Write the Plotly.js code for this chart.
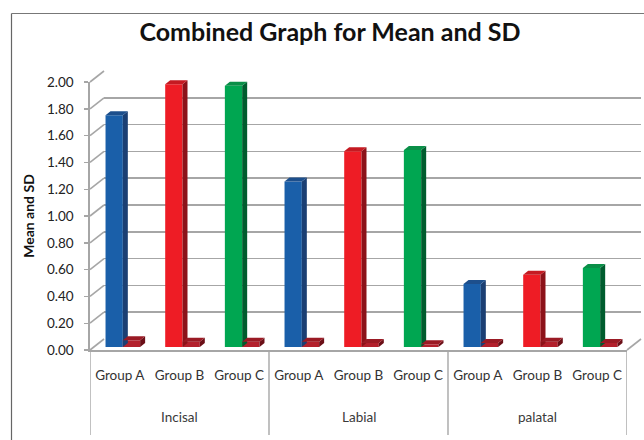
<!DOCTYPE html>
<html><head><meta charset="utf-8">
<script src="https://cdn.plot.ly/plotly-3.0.1.min.js"></script>
<style>html,body{margin:0;padding:0;background:#fff}#c{width:644px;height:440px}</style></head>
<body><div id="c"></div>
<script>
const groups = ["Group A","Group B","Group C","Group A","Group B","Group C","Group A","Group B","Group C"];
const regions = ["Incisal","Labial","palatal"];
const meanValues = [1.73,1.96,1.95,1.235,1.46,1.47,0.47,0.54,0.59];
const sdValues = [0.05,0.04,0.04,0.04,0.03,0.02,0.03,0.04,0.03];
const yTicks = [0,0.2,0.4,0.6,0.8,1,1.2,1.4,1.6,1.8,2];
const frontColors = ["#1a5fa9","#ee1c25","#00a651"];
const sideColors = ["#1b3f73","#8c1219","#005c2e"];
const topColors = ["#1d4f8c","#c51a22","#0a8f48"];
const sdFront="#b3202c", sdSide="#6b0f17", sdTop="#9a1a24";

const W=644,H=440;
const fx0=90,fx1=627,fy0=350,fy1=82;
const bdx=14,bdy=11;
const sx=3,sy=3;
const dom=(a,b,s)=>[a/s,b/s];
const pos=groups.map((_,i)=>i+0.5);
const barW=0.29;
const dx=5/((fx1-fx0)/9), dy=4/((fy0-fy1)/2);
const FONT='Lato, "Open Sans", sans-serif';

function face(xs,ys,color){
  return {x:[...xs,xs[0]],y:[...ys,ys[0]],xaxis:'x3',yaxis:'y3',type:'scatter',mode:'lines',
    fill:'toself',fillcolor:color,line:{width:0,color:color},hoverinfo:'skip',showlegend:false};
}
const traces=[];
traces.push({x:[0,9],y:[0,2],xaxis:'x2',yaxis:'y2',type:'scatter',mode:'none',showlegend:false,hoverinfo:'skip'});
traces.push({x:[0,9],y:[0,2],xaxis:'x',yaxis:'y',type:'scatter',mode:'none',showlegend:false,hoverinfo:'skip'});
traces.push({x:pos.map(p=>p-barW/2),y:meanValues,width:barW,type:'bar',xaxis:'x3',yaxis:'y3',
  marker:{color:pos.map((_,i)=>frontColors[i%3])},showlegend:false,name:'Mean'});
traces.push({x:pos.map(p=>p+barW/2),y:sdValues,width:barW,type:'bar',xaxis:'x3',yaxis:'y3',
  marker:{color:sdFront},showlegend:false,name:'SD'});
pos.forEach((p,i)=>{
  const v=meanValues[i], l=p-barW, r=p;
  traces.push(face([r,r+dx,r+dx,r],[0,dy,v+dy,v],sideColors[i%3]));
  traces.push(face([l,r,r+dx,l+dx],[v,v,v+dy,v+dy],topColors[i%3]));
  const s=sdValues[i], l2=p, r2=p+barW;
  traces.push(face([r2,r2+dx,r2+dx,r2],[0,dy,s+dy,s],sdSide));
  traces.push(face([l2,r2,r2+dx,l2+dx],[s,s,s+dy,s+dy],sdTop));
});

const grey="#a6a6a6";
const shapes=[];
const line=(x0,y0,x1,y1,c,w)=>({type:'line',xref:'paper',yref:'paper',x0:x0/W,x1:x1/W,y0:1-y0/H,y1:1-y1/H,line:{color:c||grey,width:w||1.6},layer:'below'});
yTicks.forEach(t=>{
  const y=fy0-(fy0-fy1)*t/2;
  shapes.push(line(fx0,y,fx0+bdx,y-bdy));
});
shapes.push(line(fx1,fy0,fx1+bdx,fy0-bdy));
[0,3,6,9].forEach(k=>{
  shapes.push({type:'line',xref:'x',yref:'paper',x0:k,x1:k,y0:1-fy0/H,y1:1-435/H,line:{color:grey,width:1.4},layer:'below'});
});
shapes.push(line(11.5,13.5,11.5,440,"#666666",1.2));
shapes.push(line(11.5,13.5,644,13.5,"#777777",1.2));

const annotations=regions.map((t,i)=>({text:t,xref:'x',yref:'paper',x:i*3+1.5,y:1-417/H,yanchor:'middle',showarrow:false,
  font:{family:FONT,size:13.5,color:'#3a3a3a'}}));

const layout={
  width:W,height:H,margin:{l:0,r:0,t:0,b:0,pad:0},paper_bgcolor:'#fff',plot_bgcolor:'rgba(0,0,0,0)',
  showlegend:false,barmode:'overlay',
  title:{text:'<b>Combined Graph for Mean and SD</b>',x:330/W,xanchor:'center',y:1-32/H,yanchor:'middle',
    font:{family:FONT,size:25,color:'#111'}},
  xaxis:{domain:dom(fx0,fx1,W),range:[0,9],anchor:'y',tickmode:'array',tickvals:pos,ticktext:groups,
    showgrid:false,zeroline:false,showline:true,linecolor:grey,linewidth:1.8,ticks:'',ticklabelstandoff:12,
    tickfont:{family:FONT,size:13.5,color:'#333'},fixedrange:true},
  yaxis:{domain:[1-fy0/H,1-fy1/H],range:[0,2],anchor:'x',tickmode:'array',tickvals:yTicks,
    ticktext:yTicks.map(v=>v.toFixed(2)),showgrid:false,zeroline:false,showline:true,linecolor:grey,linewidth:1.6,
    ticks:'outside',ticklen:4,tickcolor:grey,tickwidth:1.4,ticklabelstandoff:8,
    tickfont:{family:FONT,size:13.5,color:'#222'},
    title:{text:'<b>Mean and SD</b>',standoff:9,font:{family:FONT,size:14,color:'#111'}}},
  xaxis2:{domain:dom(fx0+bdx,fx1+bdx,W),range:[0,9],anchor:'y2',visible:false,showgrid:false},
  yaxis2:{domain:[1-(fy0-bdy)/H,1-(fy1-bdy)/H],range:[0,2],anchor:'x2',tickmode:'array',tickvals:yTicks,
    showticklabels:false,ticks:'',showgrid:true,gridcolor:grey,gridwidth:1.6,zeroline:false,showline:false},
  xaxis3:{domain:dom(fx0+sx,fx1+sx,W),range:[0,9],anchor:'y3',visible:false,showgrid:false},
  yaxis3:{domain:[1-(fy0-sy)/H,1-(fy1-sy)/H],range:[0,2],anchor:'x3',visible:false,showgrid:false,zeroline:false},
  shapes,annotations
};
Plotly.newPlot('c',traces,layout,{displayModeBar:false,staticPlot:true});
</script></body></html>
